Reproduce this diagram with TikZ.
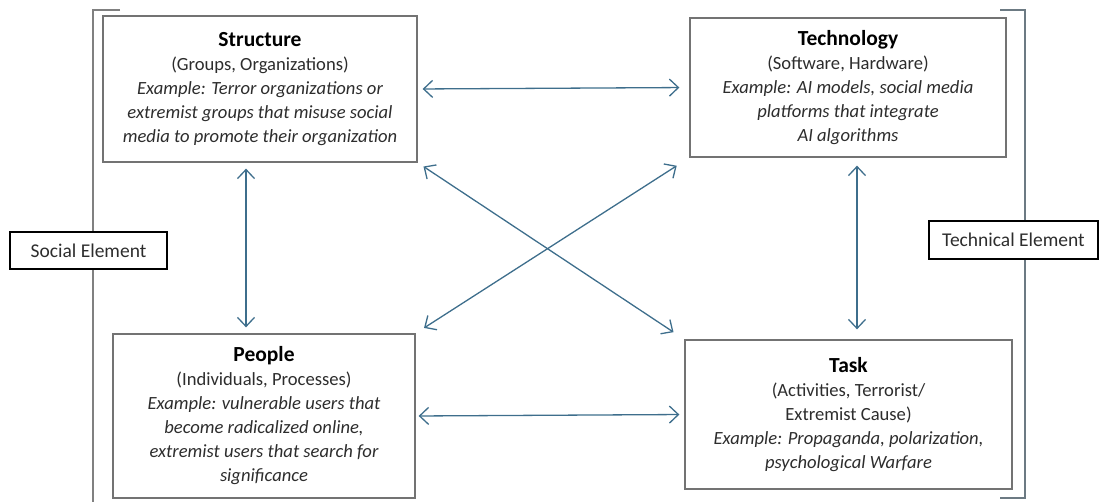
\documentclass[tikz,border=0pt]{standalone}
\usepackage{fontspec}
\setmainfont{Carlito}
\usepackage{xcolor}
\usetikzlibrary{positioning,arrows.meta}
\definecolor{linkblue}{RGB}{62,110,140}
\definecolor{boxgray}{RGB}{115,115,115}
\definecolor{textgray}{RGB}{45,45,45}
\tikzset{
  link/.style={{Straight Barb[length=9pt,width=17pt]}-{Straight Barb[length=9pt,width=17pt]}, line width=1.3pt, draw=linkblue},
  every node/.style={anchor=center}
}

\begin{document}
\begin{tikzpicture}[
  x=1pt, y=-1pt,
  font=\fontsize{18.6}{24}\selectfont,
  box/.style={draw=boxgray, fill=white, line width=1.3pt, align=center, text=textgray, inner sep=0pt},
  tag/.style={draw=black, fill=white, line width=2.2pt, text=textgray, inner sep=0pt, font=\fontsize{19.5}{24}\selectfont},
  bracket/.style={draw=gray, line width=1.3pt}
]
\useasboundingbox (0,0) rectangle (1102,502);

\draw[bracket] (120,10) -- (93,10) -- (93,502);
\draw[bracket, draw=gray!70!linkblue] (1000,10) -- (1025,10) -- (1025,498) -- (1000,498);

\node[box, minimum width=314pt, minimum height=146pt] (struct) at (260,89)
  {{\color{black}\fontsize{21.5}{24}\selectfont\bfseries Structure}\\
   (Groups, Organizations)\\
   \itshape Example: Terror organizations or\\
   \itshape extremist groups that misuse social\\
   \itshape media to promote their organization};
\node[box, minimum width=316pt, minimum height=139pt] (tech) at (848,87.5)
  {{\color{black}\fontsize{21.5}{24}\selectfont\bfseries Technology}\\
   (Software, Hardware)\\
   \itshape Example: AI models, social media\\
   \itshape platforms that integrate\\
   \itshape AI algorithms};
\node[box, minimum width=302pt, minimum height=164pt] (people) at (264,416)
  {{\color{black}\fontsize{21.5}{24}\selectfont\bfseries People}\\
   (Individuals, Processes)\\
   \itshape Example: vulnerable users that\\
   \itshape become radicalized online,\\
   \itshape extremist users that search for\\
   \itshape significance};
\node[box, minimum width=327pt, minimum height=149pt] (task) at (848.5,414.5)
  {{\color{black}\fontsize{21.5}{24}\selectfont\bfseries Task}\\
   (Activities, Terrorist/\\
   Extremist Cause)\\
   \itshape Example: Propaganda, polarization,\\
   \itshape psychological Warfare};

\node[tag, minimum width=157pt, minimum height=37pt] (social) at (88.5,250.5) {Social Element};
\node[tag, minimum width=169pt, minimum height=38pt] (technical) at (1013.5,240) {Technical Element};

\draw[link, shorten <=5pt, shorten >=10pt] (struct.east) -- (tech.west);
\draw[link, shorten <=3pt, shorten >=5pt] (people.east) -- (task.west);
\draw[link, shorten <=6pt, shorten >=6pt] ([xshift=-14pt]struct.south) -- ([xshift=-14pt]struct.south |- people.north);
\draw[link, shorten <=8pt, shorten >=10pt] ([xshift=9pt]tech.south) -- ([xshift=9pt]tech.south |- task.north);
\draw[link, shorten <=7pt, shorten >=13pt] (struct.south east) -- (task.north west);
\draw[link, shorten <=15pt, shorten >=10pt] (tech.south west) -- (people.north east);
\end{tikzpicture}
\end{document}
